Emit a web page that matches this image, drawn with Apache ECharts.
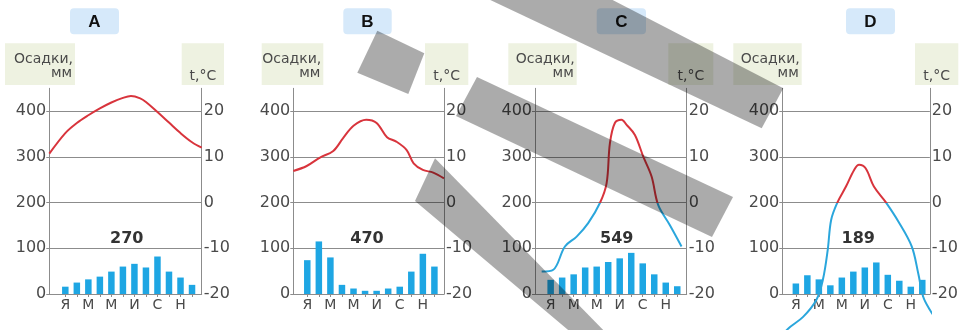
<!DOCTYPE html>
<html><head><meta charset="utf-8">
<script src="https://cdn.jsdelivr.net/npm/echarts@6/dist/echarts.min.js"></script>
<style>html,body{margin:0;padding:0;background:#fff}#c{width:961px;height:330px}</style>
</head><body><div id="c"></div>
<script>
// ---- data ----
const panelLetters = ['A', 'B', 'C', 'D'];
const totals = [270, 470, 549, 189];
const monthIdx = [0, 1, 2, 3, 4, 5, 6, 7, 8, 9, 10, 11];
const monthLabels = ['Я', 'М', 'М', 'И', 'С', 'Н'];
const monthLabelIdx = [0, 2, 4, 6, 8, 10];
const precipTicks = [0, 100, 200, 300, 400];
const tempTicks = [-20, -10, 0, 10, 20];

const precipA = [16, 25, 32, 38, 49, 60, 66, 58, 82, 49, 36, 20];
const precipB = [74, 115, 80, 20, 12, 7, 7, 12, 16, 49, 88, 60];
const precipC = [31, 36, 43, 58, 60, 70, 78, 90, 67, 43, 25, 17];
const precipD = [23, 41, 32, 19, 36, 49, 58, 69, 42, 29, 16, 31];

// temperature curves: month position (Jan = 0) and °C
const tempMonthsA = [-1.39, 0, 1, 2, 3, 4, 5, 5.7, 6.5, 7, 8, 9, 10, 11, 11.84];
const tempA = [10.7, 15.2, 17.4, 19.1, 20.6, 21.9, 22.9, 23.3, 22.8, 22.0, 19.8, 17.5, 15.2, 13.2, 12.0];
const tempMonthsB = [-1.21, -0.05, 1.1, 2.25, 3.1, 4, 5.1, 6, 6.9, 7.7, 8.6, 9.2, 10, 10.9, 11.83];
const tempB = [6.9, 8.0, 9.85, 11.3, 14.1, 16.8, 18.1, 17.4, 14.3, 13.35, 11.5, 8.6, 7.15, 6.56, 5.3];
const tempMonthsC = [-0.78, 0.23, 1.24, 2.26, 3.26, 4.28, 4.86, 5.15, 5.58, 6.16, 6.6, 7.32, 8.04, 8.77, 9.34, 10.35, 11.37];
const tempC = [-15.1, -14.7, -9.6, -7.45, -4.5, -0.1, 4.2, 13, 17.4, 18.1, 17, 14.8, 10.1, 5.7, -0.5, -4.9, -9.6];
const tempMonthsD = [-1.0, -0.8, 0.63, 1.78, 2.35, 2.77, 3.07, 3.63, 4.36, 5.07, 5.5, 6.07, 6.79, 7.79, 8.93, 10.08, 10.65, 11.08, 11.67, 12.37];
const tempD = [-29.5, -27.9, -25, -21.3, -16.9, -10.4, -3.8, 0.1, 3.5, 7.15, 8.25, 7.5, 3.5, 0.2, -4.2, -9.6, -15.5, -20.6, -23.5, -26.1];

const precip = [precipA, precipB, precipC, precipD];
const tempMonths = [tempMonthsA, tempMonthsB, tempMonthsC, tempMonthsD];
const temps = [tempA, tempB, tempC, tempD];

// ---- layout ----
const layout = [
  { left: 49.3, width: 152.4, xMin: -1.39, xMax: 11.84, letterBox: [70, 8.3, 49, 26], oBox: [5, 43.3, 70, 41.7], tBox: [181.7, 43.3, 42.3, 41.7], totalX: 126.7 },
  { left: 293.3, width: 150.7, xMin: -1.21, xMax: 11.83, letterBox: [343.3, 8.3, 48.4, 26], oBox: [261.7, 43.3, 61.6, 41.7], tBox: [425, 43.3, 43.3, 41.7], totalX: 367 },
  { left: 535, width: 151.7, xMin: -1.36, xMax: 11.82, letterBox: [596.7, 8.3, 49.3, 26], oBox: [508.3, 43.3, 68.4, 41.7], tBox: [668.3, 43.3, 45, 41.7], totalX: 616.7 },
  { left: 782.3, width: 149.4, xMin: -1.18, xMax: 11.66, letterBox: [846, 8.3, 49, 26], oBox: [733.3, 43.3, 68.4, 41.7], tBox: [915, 43.3, 43.3, 41.7], totalX: 858.3 }
];
const GRID_TOP = 88.3, GRID_H = 205.7, T_MIN = -20, T_MAX = 25;
const gridColor = '#8c8c8c';
const labelColor = '#4a4a4a';
const font = 'DejaVu Sans';
const RED = '#d8343c', BLUE = '#2aa6dc';

// line colour: red above 0 °C, blue below (global vertical gradient split at the 0 °C level)
const zeroY = GRID_TOP + GRID_H * (T_MAX - 0) / (T_MAX - T_MIN);
const zf = zeroY / 330;
const lineColor = new echarts.graphic.LinearGradient(0, 0, 0, 330, [
  { offset: 0, color: RED }, { offset: zf, color: RED },
  { offset: zf, color: BLUE }, { offset: 1, color: BLUE }
], true);

const grids = [], xAxes = [], yAxes = [], series = [], graphics = [];

layout.forEach((p, i) => {
  grids.push({ left: p.left, top: GRID_TOP, width: p.width, height: GRID_H });
  xAxes.push({
    type: 'value', gridIndex: i, min: p.xMin, max: p.xMax,
    axisLine: { show: true, onZero: false, lineStyle: { color: gridColor, width: 1 } },
    axisTick: { show: true, length: 3, customValues: monthIdx, lineStyle: { color: gridColor } },
    splitLine: { show: false },
    axisLabel: {
      customValues: monthLabelIdx, margin: 4,
      formatter: v => monthLabels[monthLabelIdx.indexOf(Math.round(v))] || '',
      color: labelColor, fontFamily: font, fontSize: 14
    }
  });
  yAxes.push({
    type: 'value', gridIndex: i, position: 'left', min: 0, max: 450, interval: 50,
    axisLine: { show: true, onZero: false, lineStyle: { color: gridColor } },
    axisTick: { show: true, length: 3, customValues: precipTicks, lineStyle: { color: gridColor } },
    splitLine: { show: true, lineStyle: { color: gridColor, width: 1 } },
    axisLabel: {
      customValues: precipTicks, margin: 3,
      color: labelColor, fontFamily: font, fontSize: 16
    }
  });
  yAxes.push({
    type: 'value', gridIndex: i, position: 'right', min: T_MIN, max: T_MAX, interval: 5,
    axisLine: { show: true, onZero: false, lineStyle: { color: gridColor } },
    axisTick: { show: false },
    splitLine: { show: false },
    axisLabel: {
      customValues: tempTicks, margin: 2,
      color: labelColor, fontFamily: font, fontSize: 16
    }
  });
  series.push({
    type: 'bar', xAxisIndex: i, yAxisIndex: 2 * i, barWidth: 6.5,
    itemStyle: { color: '#1ea6e3' },
    data: monthIdx.map((m, k) => [m, precip[i][k]])
  });
  series.push({
    type: 'line', xAxisIndex: i, yAxisIndex: 2 * i + 1, smooth: 0.35, symbol: 'none', clip: false,
    lineStyle: { width: 2, color: lineColor }, z: 3,
    data: tempMonths[i].map((m, k) => [m, temps[i][k]])
  });

  // boxes and texts
  const lb = p.letterBox;
  graphics.push({ type: 'rect', shape: { x: lb[0], y: lb[1], width: lb[2], height: lb[3], r: 4 }, style: { fill: '#d6e9fa' }, z: 1 });
  graphics.push({ type: 'text', x: lb[0] + lb[2] / 2, y: lb[1] + lb[3] / 2 + 1, style: { text: panelLetters[i], fill: '#111', font: 'bold 17px "Liberation Sans"', textAlign: 'center', textVerticalAlign: 'middle' }, z: 2 });
  const ob = p.oBox;
  graphics.push({ type: 'rect', shape: { x: ob[0], y: ob[1], width: ob[2], height: ob[3] }, style: { fill: '#eef2e1' }, z: 1 });
  graphics.push({ type: 'text', x: ob[0] + ob[2] - 2, y: 59, style: { text: 'Осадки,', fill: labelColor, font: '14px "DejaVu Sans"', textAlign: 'right', textVerticalAlign: 'middle' }, z: 2 });
  graphics.push({ type: 'text', x: ob[0] + ob[2] - 3, y: 73, style: { text: 'мм', fill: labelColor, font: '14px "DejaVu Sans"', textAlign: 'right', textVerticalAlign: 'middle' }, z: 2 });
  const tb = p.tBox;
  graphics.push({ type: 'rect', shape: { x: tb[0], y: tb[1], width: tb[2], height: tb[3] }, style: { fill: '#eef2e1' }, z: 1 });
  graphics.push({ type: 'text', x: tb[0] + tb[2] / 2, y: 76, style: { text: 't,°C', fill: labelColor, font: '14px "DejaVu Sans"', textAlign: 'center', textVerticalAlign: 'middle' }, z: 2 });
  graphics.push({ type: 'text', x: p.totalX, y: 238.5, style: { text: String(totals[i]), fill: '#333', font: 'bold 16px "DejaVu Sans"', textAlign: 'center', textVerticalAlign: 'middle' }, z: 2 });
});

// grey overlay stripes (on top of the picture)
const stripes = [
  [[377.3, 30.7], [424.3, 53.3], [408.3, 94], [357.3, 72.7]],
  [[477, 77], [733, 197], [712, 237], [456, 116]],
  [[574, -20], [783.3, 88.3], [761.7, 128.3], [448, -20]],
  [[435, 158.3], [613, 340], [580, 340], [415, 201]]
];
stripes.forEach(pts => graphics.push({ type: 'polygon', shape: { points: pts }, style: { fill: 'rgba(0,0,0,0.33)' }, z: 100, zlevel: 1 }));

const chart = echarts.init(document.getElementById('c'), null, { renderer: 'canvas' });
chart.setOption({
  animation: false,
  backgroundColor: '#fff',
  grid: grids, xAxis: xAxes, yAxis: yAxes, series: series,
  graphic: graphics
});
</script></body></html>
